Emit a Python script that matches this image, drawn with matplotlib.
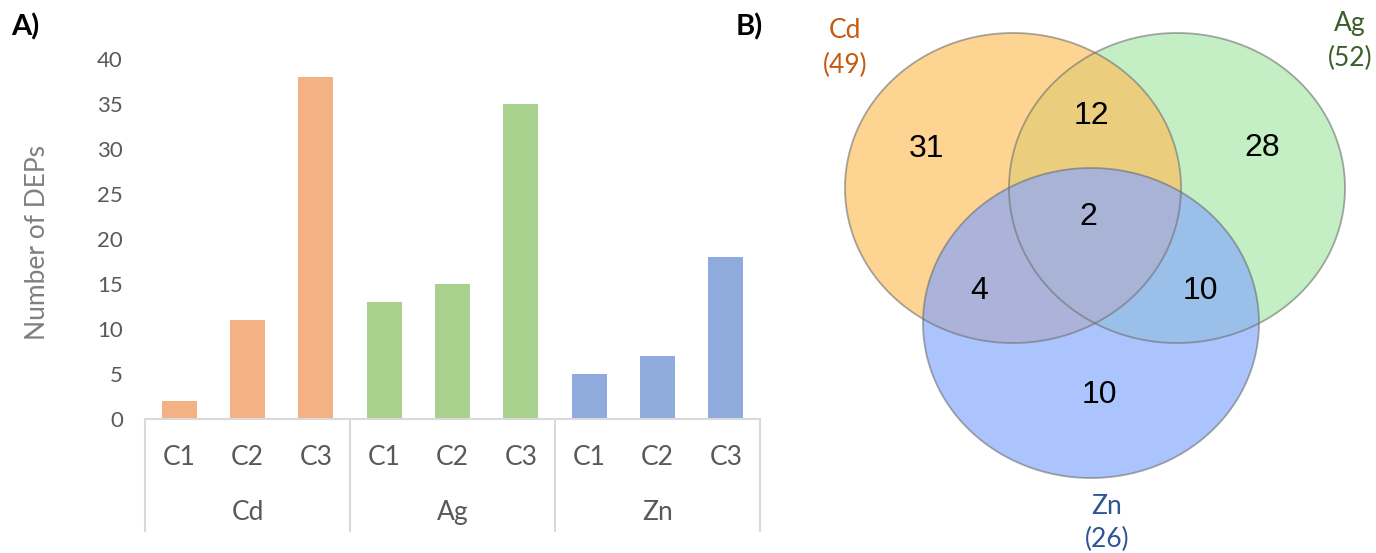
import numpy as np
import matplotlib
matplotlib.use("Agg")
import matplotlib.pyplot as plt
from matplotlib.patches import Polygon
import matplotlib.transforms as mtransforms

# ---------------- data ----------------
groups = ["Cd", "Ag", "Zn"]
conditions = ["C1", "C2", "C3"]
cd_values = [2, 11, 38]
ag_values = [13, 15, 35]
zn_values = [5, 7, 18]
y_ticks = [0, 5, 10, 15, 20, 25, 30, 35, 40]

venn_sets = ["Cd", "Ag", "Zn"]
venn_totals = [49, 52, 26]
# region counts
only_cd, only_ag, only_zn = 31, 28, 10
cd_ag, cd_zn, ag_zn = 12, 4, 10
cd_ag_zn = 2

# ---------------- styles ----------------
bar_colors = ["#f4b183", "#a9d18e", "#8faadc"]
text_gray = "#595959"
axis_gray = "#d9d9d9"
FONT = "Lato"

W, H = 1376, 553
fig = plt.figure(figsize=(W / 100, H / 100), dpi=100)

# ---------------- Panel A ----------------
axA = fig.add_axes([145 / W, (H - 419) / H, 615 / W, 360 / H])
all_vals = cd_values + ag_values + zn_values
cols = [bar_colors[0]] * 3 + [bar_colors[1]] * 3 + [bar_colors[2]] * 3
x = np.arange(len(all_vals))
axA.bar(x, all_vals, width=0.51, color=cols, zorder=2)
axA.set_xlim(-0.5, len(all_vals) - 0.5)
axA.set_ylim(0, 40)
axA.set_yticks(y_ticks)
axA.set_yticklabels([str(t) for t in y_ticks], fontsize=16, color=text_gray, family=FONT)
axA.tick_params(axis="y", length=0, pad=16)
axA.set_xticks([])
for s in ["top", "right", "left"]:
    axA.spines[s].set_visible(False)
axA.spines["bottom"].set_color(axis_gray)
axA.spines["bottom"].set_linewidth(1.5)
axA.set_ylabel("Number of DEPs", fontsize=19, color="#7f7f7f", family=FONT)
axA.yaxis.set_label_coords(-0.1545, 0.49)

trans = mtransforms.blended_transform_factory(axA.transData, axA.transAxes)
for i, xv in enumerate(x):
    axA.text(xv, -0.1075, conditions[i % 3], transform=trans, ha="center", va="center",
             fontsize=19, color=text_gray, family=FONT)
for g, name in enumerate(groups):
    axA.text(3 * g + 1, -0.261, name, transform=trans, ha="center", va="center",
             fontsize=19, color=text_gray, family=FONT)
for sep in [-0.5, 2.5, 5.5, 8.5]:
    axA.plot([sep, sep], [0, -0.314], transform=trans, color=axis_gray, lw=1.5,
             clip_on=False, solid_capstyle="butt")

fig.text(11 / W, 1 - 26.5 / H, "A)", fontsize=21, fontweight="bold", family=FONT,
         ha="left", va="center", color="black")
fig.text(736 / W, 1 - 26.5 / H, "B)", fontsize=21, fontweight="bold", family=FONT,
         ha="left", va="center", color="black")

# ---------------- Panel B (Venn) ----------------
axB = fig.add_axes([740 / W, 0, (W - 740) / W, 1])
axB.set_xlim(740, W)
axB.set_ylim(H, 0)
axB.axis("off")

def ellipse_poly(cx, cy, rx, ry, n=720):
    t = np.linspace(0, 2 * np.pi, n, endpoint=False)
    return np.column_stack([cx + rx * np.cos(t), cy + ry * np.sin(t)])

def clip(subject, clipper):
    # Sutherland-Hodgman for convex clipper
    def inside(p, a, b):
        return (b[0] - a[0]) * (p[1] - a[1]) - (b[1] - a[1]) * (p[0] - a[0]) >= 0
    def inter(p1, p2, a, b):
        x1, y1 = p1; x2, y2 = p2; x3, y3 = a; x4, y4 = b
        den = (x1 - x2) * (y3 - y4) - (y1 - y2) * (x3 - x4)
        if den == 0:
            return p2
        t = ((x1 - x3) * (y3 - y4) - (y1 - y3) * (x3 - x4)) / den
        return (x1 + t * (x2 - x1), y1 + t * (y2 - y1))
    output = [tuple(p) for p in subject]
    m = len(clipper)
    for i in range(m):
        a = clipper[i]; b = clipper[(i + 1) % m]
        inp = output
        output = []
        if not inp:
            break
        s = inp[-1]
        for e in inp:
            if inside(e, a, b):
                if not inside(s, a, b):
                    output.append(inter(s, e, a, b))
                output.append(e)
            elif inside(s, a, b):
                output.append(inter(s, e, a, b))
            s = e
    return np.array(output)

RX, RY = 168, 155
E_cd = ellipse_poly(1013, 188, RX, RY)
E_ag = ellipse_poly(1177, 188, RX, RY)
E_zn = ellipse_poly(1091, 323, RX, RY)

fill = {
    "cd": "#fdd491", "ag": "#c4efc4", "zn": "#abc4fd",
    "cd_ag": "#ebcd7e", "cd_zn": "#abb3db", "ag_zn": "#9abfe9", "all": "#a8b3d6",
}
for poly, c in [(E_cd, fill["cd"]), (E_ag, fill["ag"]), (E_zn, fill["zn"])]:
    axB.add_patch(Polygon(poly, closed=True, facecolor=c, edgecolor="none", zorder=1))
I_cd_ag = clip(E_cd, E_ag)
I_cd_zn = clip(E_cd, E_zn)
I_ag_zn = clip(E_ag, E_zn)
I_all = clip(I_cd_ag, E_zn)
for poly, c in [(I_cd_ag, fill["cd_ag"]), (I_cd_zn, fill["cd_zn"]),
                (I_ag_zn, fill["ag_zn"]), (I_all, fill["all"])]:
    axB.add_patch(Polygon(poly, closed=True, facecolor=c, edgecolor="none", zorder=2))
for poly in [E_cd, E_ag, E_zn]:
    axB.add_patch(Polygon(poly, closed=True, facecolor="none", edgecolor="#6f6f6f",
                          lw=1.3, alpha=0.6, zorder=3))

num_pos = [
    (only_cd, 927, 149), (cd_ag, 1091, 116), (only_ag, 1262, 148),
    (cd_ag_zn, 1088, 217), (cd_zn, 979, 291), (ag_zn, 1200, 291), (only_zn, 1099, 395),
]
for val, px, py in num_pos:
    axB.text(px, py, str(val), ha="center", va="center", fontsize=23,
             family="Liberation Sans", color="black", zorder=4)

label_colors = ["#c55a11", "#3b5e2b", "#2f5597"]
label_pos = [(845, 30, 65), (1350, 23, 58), (1107, 506, 539)]
for name, tot, col, (lx, ly1, ly2) in zip(venn_sets, venn_totals, label_colors, label_pos):
    axB.text(lx, ly1, name, ha="center", va="center", fontsize=19, family=FONT, color=col)
    axB.text(lx, ly2, f"({tot})", ha="center", va="center", fontsize=19, family=FONT, color=col)

fig.savefig("out.png", dpi=100)
